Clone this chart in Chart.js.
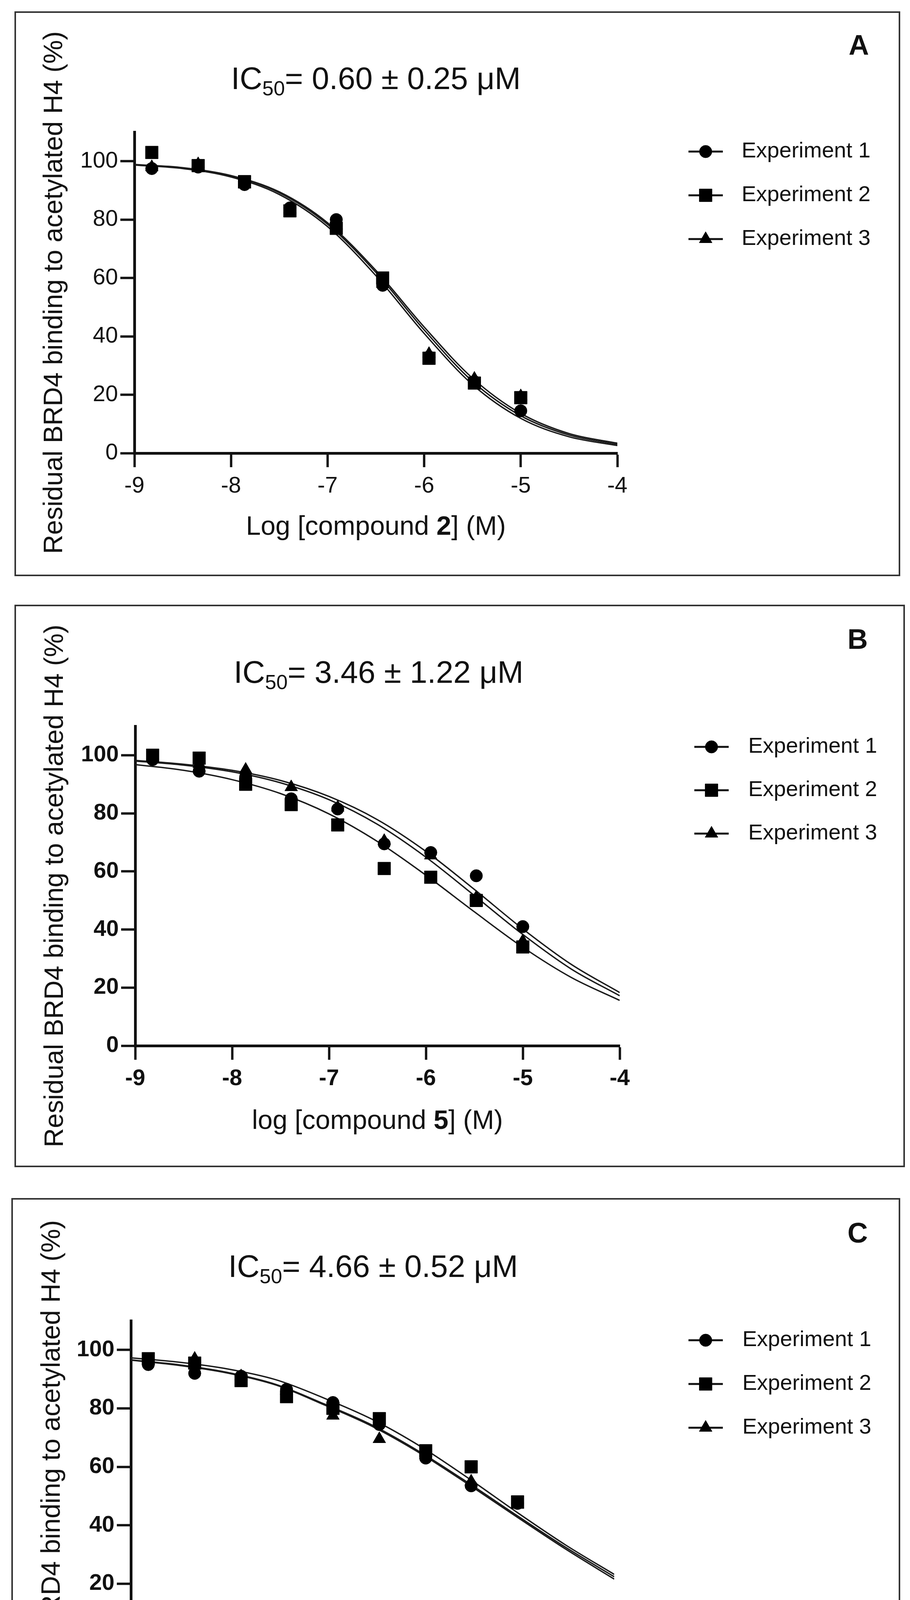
<!DOCTYPE html>
<html lang="en">
<head>
  <meta charset="UTF-8">
  <title>Residual BRD4 binding - IC50 curves</title>
  <script src="https://cdn.jsdelivr.net/npm/chart.js@4"></script>
  <style>
    body {
      margin: 0;
      width: 2329px;
      height: 4537px;
      position: relative;
      background: #fff;
      font-family: "Liberation Sans", Arial, Helvetica, sans-serif;
      color: #111;
      overflow: hidden;
    }
    .box {
      position: absolute;
      border: 4px solid #333;
      box-sizing: border-box;
    }
    canvas { position: absolute; }
    .ic50, .letter, .xtitle {
      position: absolute;
      white-space: nowrap;
      line-height: 1;
      transform: translate(-50%, -50%);
    }
    .ic50 { font-size: 80px; }
    .ic50 sub { font-size: 52px; line-height: 0; vertical-align: -16px; }
    .letter { font-size: 72px; font-weight: bold; }
    .xtitle { font-size: 68px; }
  </style>
</head>
<body>
  <script>
    // x positions of the measured points (log M) and of the fitted curve samples
    const logConc = [-8.82, -8.34, -7.86, -7.39, -6.91, -6.43, -5.95, -5.48, -5.0];
    const fitX = [-9, -8.5, -8, -7.5, -7, -6.5, -6, -5.5, -5, -4.5, -4];
    const xTicks = [-9, -8, -7, -6, -5, -4];
    const yTicks = [0, 20, 40, 60, 80, 100];
    const seriesNames = ['Experiment 1', 'Experiment 2', 'Experiment 3'];

    // panel A - compound 2
    const aExp1 = [97.5, 98, 92, 84, 80, 57.5, 33, 24.5, 14.5];
    const aExp2 = [103, 98.5, 93, 83, 77, 60, 32.5, 24, 19];
    const aExp3 = [98, 99, 92, 83.5, 78, 58, 34, 25.5, 19.5];
    const aFit1 = [98.8, 97.7, 94.9, 89.2, 78.4, 61.9, 42.2, 24.6, 12.8, 6.2, 3.0];
    const aFit2 = [98.7, 97.5, 94.6, 88.6, 77.6, 60.8, 41.0, 23.5, 11.9, 5.6, 2.6];
    const aFit3 = [98.9, 97.8, 95.1, 89.5, 78.9, 62.6, 43.2, 25.7, 13.6, 6.7, 3.4];

    // panel B - compound 5
    const bExp1 = [98.5, 94.5, 92.5, 85, 81.5, 69.5, 66.5, 58.5, 41];
    const bExp2 = [100, 99, 90, 83, 76, 61, 58, 50, 34];
    const bExp3 = [99, 97, 95, 89, 82, 70.5, 65.5, 51, 36];
    const bFit1 = [98.2, 96.9, 94.8, 91.3, 85.8, 77.8, 66.9, 53.8, 40.2, 28.0, 18.3];
    const bFit2 = [96.8, 94.8, 91.6, 86.8, 79.8, 70.3, 58.7, 46.1, 33.9, 23.5, 15.6];
    const bFit3 = [98.0, 96.6, 94.3, 90.5, 84.7, 76.2, 64.9, 51.7, 38.3, 26.4, 17.2];

    // panel C - compound 6
    const cExp1 = [95, 92, 91, 86.5, 82, 74.5, 63, 53.5, 47.5];
    const cExp2 = [97, 95.5, 89.5, 84, 80, 76.5, 65.5, 60, 48];
    const cExp3 = [96.5, 97, 91, 86, 77.5, 69.5, 64, 55, 47];
    const cFit1 = [96.6, 94.9, 92.3, 88.2, 81.5, 74.2, 64.9, 54.3, 43.2, 32.4, 22.4];
    const cFit2 = [97.3, 95.8, 93.5, 89.8, 83.5, 76.2, 66.9, 55.9, 44.3, 33.2, 23.2];
    const cFit3 = [96.5, 94.7, 92.1, 88.0, 81.2, 73.8, 64.5, 53.8, 42.7, 31.8, 21.6];

    const markerStyles = [
      { pointStyle: 'circle', radius: 16 },
      { pointStyle: 'rect', radius: 23 },
      { pointStyle: 'triangle', radius: 19 }
    ];

    // page layout, in page pixels
    const panels = [
      {
        letter: 'A', ic50: '0.60 ± 0.25', xWord: 'Log', compound: '2', boldTicks: false,
        exp: [aExp1, aExp2, aExp3], fit: [aFit1, aFit2, aFit3],
        box: { x: 37, y: 29, w: 2267, h: 1446 },
        area: { left: 344, top: 338, right: 1580, bottom: 1160 },
        titleAt: [962, 201], letterAt: [2198, 115], xTitleAt: [962, 1345], yTitleX: 140,
        legend: { x: 1806, text: 1898, y0: 388, dy: 112 }
      },
      {
        letter: 'B', ic50: '3.46 ± 1.22', xWord: 'log', compound: '5', boldTicks: true,
        exp: [bExp1, bExp2, bExp3], fit: [bFit1, bFit2, bFit3],
        box: { x: 37, y: 1548, w: 2279, h: 1440 },
        area: { left: 346, top: 1859, right: 1586, bottom: 2677 },
        titleAt: [969, 1721], letterAt: [2195, 1636], xTitleAt: [966, 2866], yTitleX: 142,
        legend: { x: 1821, text: 1915, y0: 1912, dy: 111 }
      },
      {
        letter: 'C', ic50: '4.66 ± 0.52', xWord: 'log', compound: '6', boldTicks: true,
        exp: [cExp1, cExp2, cExp3], fit: [cFit1, cFit2, cFit3],
        box: { x: 29, y: 3067, w: 2275, h: 1446 },
        area: { left: 335, top: 3381, right: 1572, bottom: 4204 },
        titleAt: [955, 3242], letterAt: [2195, 3156], xTitleAt: [954, 4394], yTitleX: 134,
        legend: { x: 1806, text: 1900, y0: 3431, dy: 112 }
      }
    ];

    const ink = '#111';
    const fontFamily = '"Liberation Sans", Arial, Helvetica, sans-serif';
    const yTitleSize = 68;

    // legend drawn next to the plot: short line through the marker, then the name
    const expLegend = {
      id: 'expLegend',
      afterDraw(chart, args, opts) {
        const ctx = chart.ctx;
        ctx.save();
        ctx.font = '56px ' + fontFamily;
        ctx.textBaseline = 'middle';
        ctx.textAlign = 'left';
        seriesNames.forEach((name, i) => {
          const y = opts.y0 + i * opts.dy;
          ctx.strokeStyle = ink;
          ctx.lineWidth = 5;
          ctx.beginPath();
          ctx.moveTo(opts.x - 44, y);
          ctx.lineTo(opts.x + 44, y);
          ctx.stroke();
          ctx.fillStyle = '#000';
          ctx.strokeStyle = '#000';
          ctx.lineWidth = 1;
          Chart.helpers.drawPoint(ctx, {
            pointStyle: markerStyles[i].pointStyle,
            radius: markerStyles[i].radius,
            rotation: 0,
            borderWidth: 1
          }, opts.x, y);
          ctx.fillStyle = ink;
          ctx.fillText(name, opts.text, y);
        });
        ctx.restore();
      }
    };

    function addText(cls, html, at) {
      const d = document.createElement('div');
      d.className = cls;
      d.innerHTML = html;
      d.style.left = at[0] + 'px';
      d.style.top = at[1] + 'px';
      document.body.appendChild(d);
    }

    panels.forEach(p => {
      const { box, area } = p;

      const frame = document.createElement('div');
      frame.className = 'box';
      Object.assign(frame.style, {
        left: box.x + 'px', top: box.y + 'px', width: box.w + 'px', height: box.h + 'px'
      });
      document.body.appendChild(frame);

      const canvas = document.createElement('canvas');
      canvas.width = box.w;
      canvas.height = box.h;
      canvas.style.left = box.x + 'px';
      canvas.style.top = box.y + 'px';
      canvas.style.width = box.w + 'px';
      canvas.style.height = box.h + 'px';
      document.body.appendChild(canvas);

      addText('ic50', 'IC<sub>50</sub>= ' + p.ic50 + ' μM', p.titleAt);
      addText('letter', p.letter, p.letterAt);
      addText('xtitle', p.xWord + ' [compound <b>' + p.compound + '</b>] (M)', p.xTitleAt);

      const pointSets = p.exp.map((vals, i) => ({
        label: seriesNames[i],
        data: logConc.map((x, j) => ({ x: x, y: vals[j] })),
        showLine: false,
        pointStyle: markerStyles[i].pointStyle,
        pointRadius: markerStyles[i].radius,
        pointHoverRadius: markerStyles[i].radius,
        pointBackgroundColor: '#000',
        pointBorderColor: '#000',
        pointBorderWidth: 1,
        order: 1
      }));
      const fitSets = p.fit.map((vals, i) => ({
        label: seriesNames[i] + ' fit',
        data: fitX.map((x, j) => ({ x: x, y: vals[j] })),
        showLine: true,
        pointRadius: 0,
        borderColor: '#1a1a1a',
        borderWidth: 3.5,
        cubicInterpolationMode: 'monotone',
        fill: false,
        order: 2
      }));

      const tickFont = { family: fontFamily, size: 58, weight: p.boldTicks ? 'bold' : 'normal' };
      const xScaleHeight = 150;

      new Chart(canvas.getContext('2d'), {
        type: 'scatter',
        data: { datasets: pointSets.concat(fitSets) },
        plugins: [expLegend],
        options: {
          responsive: false,
          animation: false,
          devicePixelRatio: 1,
          events: [],
          layout: {
            padding: {
              left: 0,
              top: area.top - box.y,
              right: box.x + box.w - area.right,
              bottom: box.y + box.h - area.bottom - xScaleHeight
            }
          },
          plugins: {
            legend: { display: false },
            tooltip: { enabled: false },
            expLegend: {
              x: p.legend.x - box.x,
              text: p.legend.text - box.x,
              y0: p.legend.y0 - box.y,
              dy: p.legend.dy
            }
          },
          scales: {
            x: {
              type: 'linear',
              min: -9,
              max: -4,
              afterFit: s => { s.height = xScaleHeight; },
              afterBuildTicks: s => { s.ticks = xTicks.map(v => ({ value: v })); },
              grid: {
                display: true, drawOnChartArea: false, drawTicks: true,
                tickLength: 36, tickWidth: 6, tickColor: ink, color: ink
              },
              border: { display: true, color: ink, width: 7 },
              ticks: {
                color: ink, font: tickFont, padding: 14, maxRotation: 0,
                callback: v => String(v)
              }
            },
            y: {
              type: 'linear',
              min: 0,
              max: 110,
              afterFit: s => { s.width = area.left - box.x; },
              afterBuildTicks: s => { s.ticks = yTicks.map(v => ({ value: v })); },
              grid: {
                display: true, drawOnChartArea: false, drawTicks: true,
                tickLength: 36, tickWidth: 6, tickColor: ink, color: ink
              },
              border: { display: true, color: ink, width: 7 },
              ticks: {
                color: ink, font: tickFont, padding: 6,
                callback: v => String(v)
              },
              title: {
                display: true,
                text: 'Residual BRD4 binding to acetylated H4 (%)',
                color: ink,
                font: { family: fontFamily, size: yTitleSize },
                padding: { top: p.yTitleX - box.x - yTitleSize * 0.6, bottom: 0 }
              }
            }
          }
        }
      });
    });
  </script>
</body>
</html>
